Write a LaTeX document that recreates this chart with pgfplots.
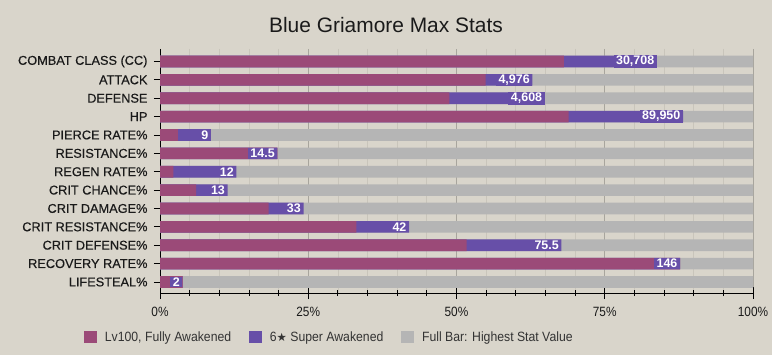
\documentclass[border=0pt]{standalone}
\usepackage{pgfplots}
\pgfplotsset{compat=1.18}
\usepackage{pgfplotstable}
\usepackage{fontspec}
\setmainfont{Liberation Sans}
\newfontfamily\narrowfont{Liberation Sans}[FakeStretch=0.88]
\newfontfamily\legfont{Liberation Sans}[FakeStretch=0.91]
\newfontfamily\labfont{Liberation Sans}[FakeBold=0.35]
\newfontfamily\symfont{DejaVu Sans}
\definecolor{bg}{HTML}{D9D5CB}
\definecolor{pinkbar}{HTML}{9B4A78}
\definecolor{purplebar}{HTML}{674FA8}
\definecolor{graybar}{HTML}{B5B5B5}
\definecolor{majgrid}{HTML}{A8A59D}
\definecolor{mingrid}{HTML}{C9C5BB}
\definecolor{txt}{HTML}{1A1A1A}
\pgfplotstableread{
y pink total full label
0 68.1 83.8 100 30,708
1 54.9 62.8 100 4,976
2 48.8 64.9 100 4,608
3 68.9 88.2 100 89,950
4 3.0 8.6 100 9
5 19.8 19.8 100 14.5
6 2.25 12.9 100 12
7 6.1 11.4 100 13
8 18.3 24.2 100 33
9 33.1 42.0 100 42
10 51.7 67.7 100 75.5
11 87.7 87.7 100 146
12 3.8 3.8 100 2
}\stats
\pgfplotsset{layers/mylayers/.define layer set={axis background,axis grid,main,axis ticks,axis lines,axis tick labels,axis descriptions,axis foreground}{}}
\begin{document}
\begin{tikzpicture}
\fill[bg] (-160bp,-62bp) rectangle (612bp,293bp);
\node[font=\fontsize{21}{24}\selectfont, text=txt] at (226bp,268bp) {Blue Griamore Max Stats};
\begin{axis}[
  set layers=mylayers,
  at={(0,0)}, anchor=south west,
  scale only axis, width=593bp, height=244bp,
  xbar, bar shift=0pt, bar width=0.63,
  xmin=0, xmax=100, ymin=-0.68, ymax=12.6, y dir=reverse,
  ytick={0,...,12},
  yticklabels={COMBAT CLASS (CC),ATTACK,DEFENSE,HP,PIERCE RATE\%,RESISTANCE\%,REGEN RATE\%,CRIT CHANCE\%,CRIT DAMAGE\%,CRIT RESISTANCE\%,CRIT DEFENSE\%,RECOVERY RATE\%,LIFESTEAL\%},
  xtick={0,25,50,75,100}, xticklabels={0\%,25\%,50\%,75\%,100\%},
  minor x tick num=4,
  xmajorgrids, xminorgrids,
  major x grid style={majgrid, line width=1bp},
  minor x grid style={mingrid, line width=0.8bp},
  axis x line*=bottom, axis y line*=left,
  axis line style={-, black, line width=1bp},
  tick align=center, major tick length=12bp, minor tick length=6bp,
  tick style={black, line width=0.9bp},
  yticklabel style={font=\labfont\fontsize{12.8}{14}\selectfont, text=txt, xshift=-3bp},
  xticklabel style={font=\narrowfont\fontsize{13.5}{15}\selectfont, text=txt, yshift=-5bp},
  reverse legend,
  legend columns=3,
  legend cell align=left,
  legend style={at={(axis description cs:0,0)}, anchor=west, xshift=-76bp, yshift=-44bp,
    draw=none, fill=none, inner sep=0pt,
    nodes={inner sep=0pt, font=\legfont\fontsize{13.5}{16}\selectfont, text=black!80},
    /tikz/every odd column/.append style={column sep=8bp},
    /tikz/every even column/.append style={column sep=18bp}},
]
\addplot[fill=graybar, draw=none, legend image code/.code={\fill[graybar] (0bp,-6.3bp) rectangle (12.7bp,6.3bp);}] table[x=full,y=y]{\stats};
\addplot[fill=purplebar, draw=none, legend image code/.code={\fill[purplebar] (0bp,-6.3bp) rectangle (12.7bp,6.3bp);}] table[x=total,y=y]{\stats};
\addplot[fill=pinkbar, draw=none, legend image code/.code={\fill[pinkbar] (0bp,-6.3bp) rectangle (12.7bp,6.3bp);}] table[x=pink,y=y]{\stats};
\addplot[draw=none, fill=none, forget plot, nodes near coords, point meta=explicit symbolic,
  every node near coord/.append style={anchor=east, fill=purplebar, text=white,
    font=\bfseries\fontsize{12.5}{14}\selectfont, inner xsep=2.5bp, inner ysep=1bp}]
  table[x=total,y=y,meta=label]{\stats};
\legend{Full Bar: Highest Stat Value, 6{\symfont\fontsize{11.5}{13}\selectfont★} Super Awakened, {Lv100, Fully Awakened}}
\end{axis}
\pgfresetboundingbox
\useasboundingbox (-160bp,-62bp) rectangle (612bp,293bp);
\end{tikzpicture}
\end{document}
